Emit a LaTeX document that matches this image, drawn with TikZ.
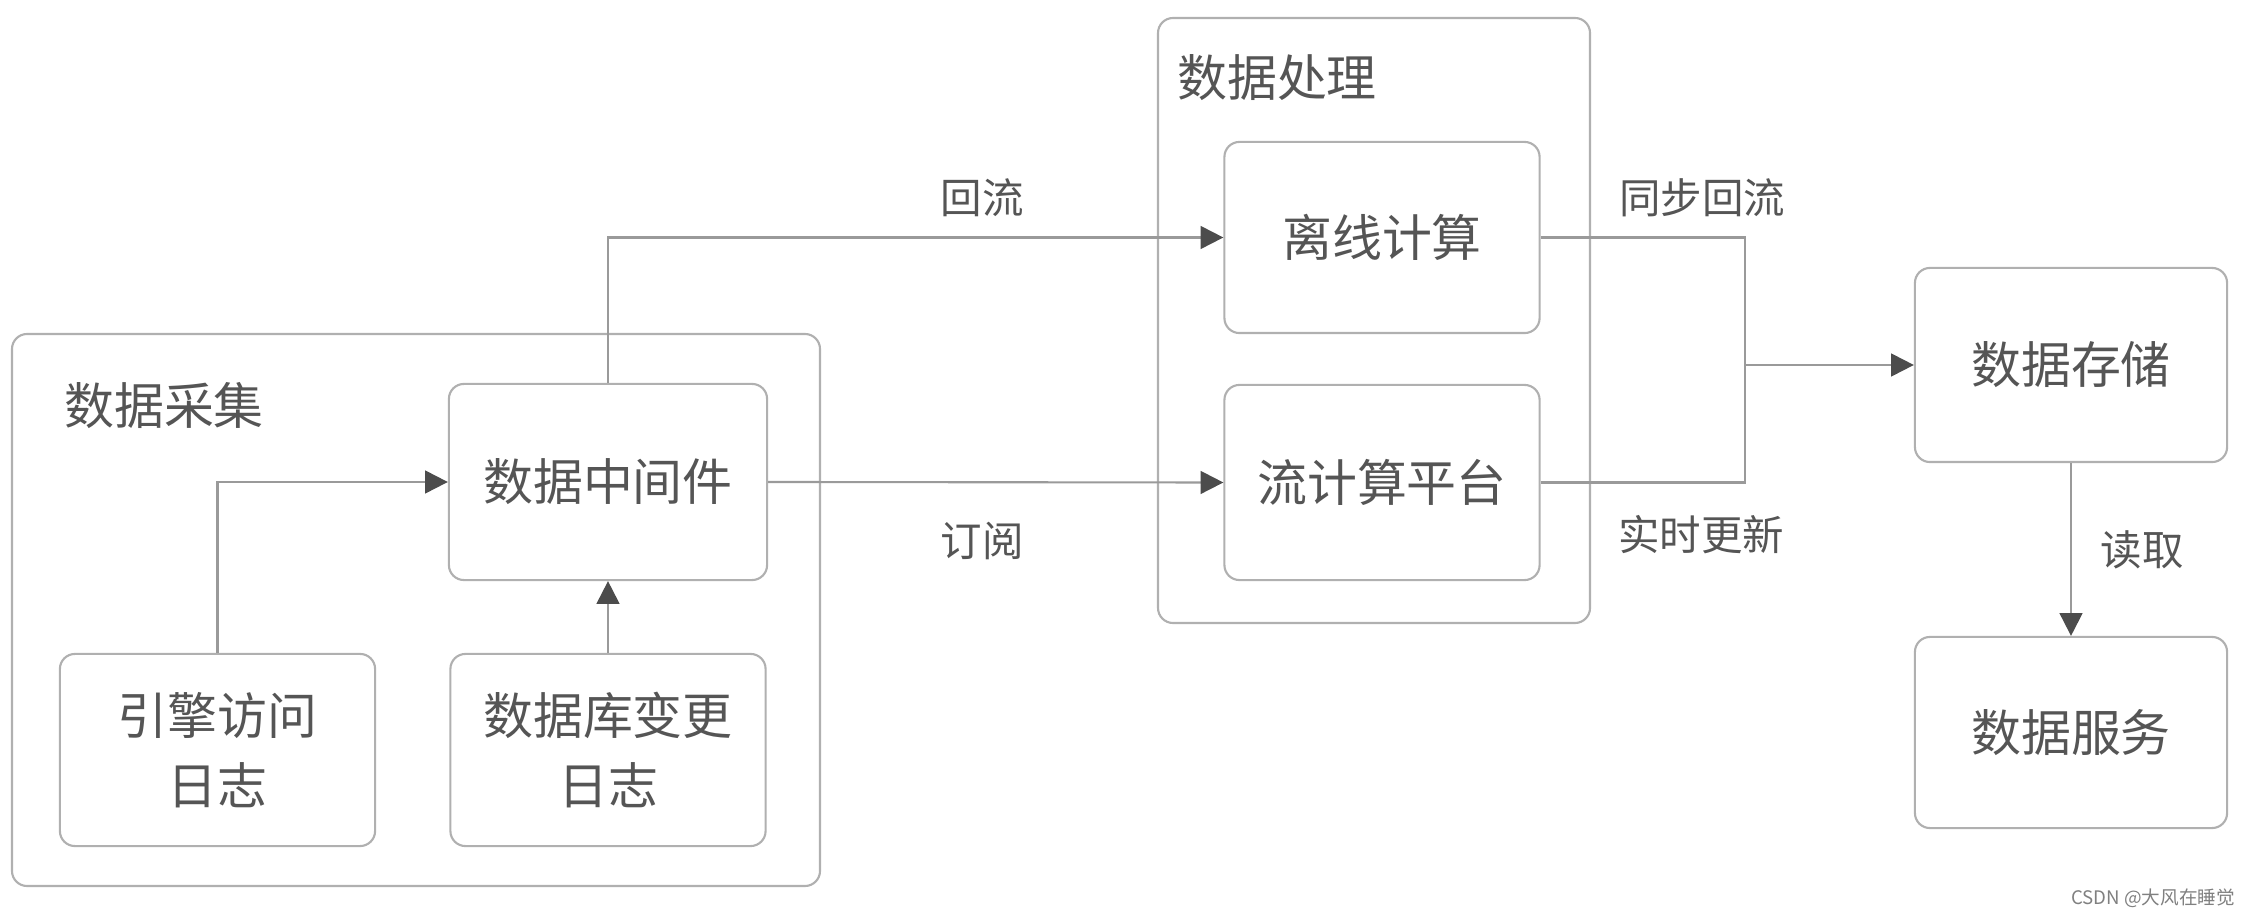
\documentclass[tikz,border=0pt]{standalone}
\usepackage{fontspec}
\newfontfamily\cjk{Noto Sans CJK SC}
\usetikzlibrary{arrows.meta}
\definecolor{linec}{HTML}{9A9A9A}
\definecolor{boxc}{HTML}{B0B0B0}
\definecolor{txtc}{HTML}{555555}
\tikzset{
  box/.style={draw=boxc, line width=0.6pt, rounded corners=0.15cm, inner sep=0pt},
  grp/.style={draw=boxc, line width=0.6pt, rounded corners=0.15cm, inner sep=0pt},
  boxtext/.style={text=txtc, font=\cjk\fontsize{14.2pt}{18pt}\selectfont, align=center},
  lbl/.style={text=txtc, font=\cjk\fontsize{11.8pt}{14pt}\selectfont, inner sep=0pt},
  ttl/.style={text=txtc, font=\cjk\fontsize{14.2pt}{18pt}\selectfont, inner sep=0pt},
  conn/.style={draw=linec, line width=0.6pt},
  arr/.style={conn, -{Triangle[length=6.5pt,width=6.5pt,fill=black!70,color=black!70]}},
}
\begin{document}
\begin{tikzpicture}[x=0.01cm,y=-0.01cm]
\useasboundingbox[fill=white] (0,0) rectangle (2255,916);
% groups
\draw[grp] (12,334) rectangle (820,886);
\draw[grp] (1158,18) rectangle (1590,623);
\node[ttl] (tcollect) at (164,406) {数据采集};
\node[ttl] (tproc) at (1277,78) {数据处理};
% boxes
\node[box, minimum width=3.18cm, minimum height=1.96cm] (mid) at (608,482) {};
\node[boxtext] at (mid) {数据中间件};
\node[box, minimum width=3.15cm, minimum height=1.92cm] (eng) at (217.5,750) {};
\node[boxtext] at (eng) {引擎访问\\[2pt]日志};
\node[box, minimum width=3.15cm, minimum height=1.92cm] (db) at (608,750) {};
\node[boxtext] at (db) {数据库变更\\[2pt]日志};
\node[box, minimum width=3.15cm, minimum height=1.91cm] (off) at (1382,237.5) {};
\node[boxtext] at (off) {离线计算};
\node[box, minimum width=3.15cm, minimum height=1.95cm] (stream) at (1382,482.5) {};
\node[boxtext] at (stream) {流计算平台};
\node[box, minimum width=3.12cm, minimum height=1.94cm] (store) at (2071,365) {};
\node[boxtext] at (store) {数据存储};
\node[box, minimum width=3.12cm, minimum height=1.91cm] (serv) at (2071,732.5) {};
\node[boxtext] at (serv) {数据服务};
% connectors
\coordinate (J) at (1745,365);
\draw[arr] (eng.north) |- (mid.west);
\draw[arr] (db.north) -- (mid.south);
\draw[arr] (mid.north) |- (off.west);
\draw[arr] (mid.east) -- (stream.west);
\draw[conn] (off.east) -| (J);
\draw[conn] (stream.east) -| (J);
\draw[arr] (J) -- (store.west);
\draw[arr] (store.south) -- (serv.north);
% labels
\node[lbl] (l1) at (982,198) {回流};
\node[lbl] (l2) at (982,541) {订阅};
\node[lbl] (l3) at (1702,198) {同步回流};
\node[lbl] (l4) at (1701,535) {实时更新};
\node[lbl] (l5) at (2142,550) {读取};
% watermark
\node[text=black!50, font=\cjk\fontsize{5.3pt}{6pt}\selectfont, inner sep=0pt] (wm) at (2153,898) {CSDN @大风在睡觉};
\end{tikzpicture}
\end{document}
